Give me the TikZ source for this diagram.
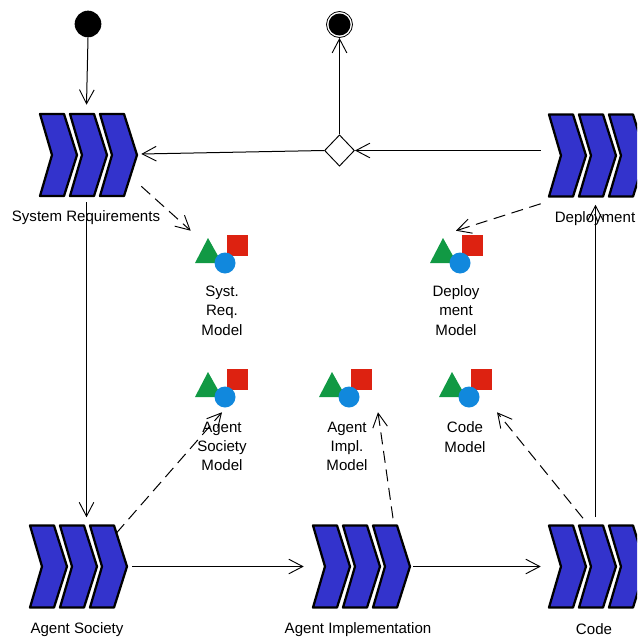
\documentclass[tikz,border=0pt]{standalone}
\usepackage{fontspec}
\setmainfont{Liberation Sans}
\usetikzlibrary{arrows.meta,calc,shapes.geometric}
\definecolor{chevblue}{HTML}{3333CC}
\definecolor{icgreen}{HTML}{119944}
\definecolor{icred}{HTML}{DD2211}
\definecolor{icblue}{HTML}{1188DD}
\tikzset{
  chevbox/.style={inner sep=0pt,minimum width=74.25pt,minimum height=63pt},
  iconbox/.style={inner sep=0pt,minimum width=39.75pt,minimum height=28.5pt},
  lbl/.style={font=\fontsize{11.3pt}{14.5pt}\selectfont,align=center,inner sep=0pt,text=black},
  flow/.style={draw=black,line width=0.75pt,-{Straight Barb[length=10.5pt,width=11pt,line width=0.7pt]}},
  dep/.style={flow,dash pattern=on 9pt off 5pt},
  startdot/.style={circle,fill=black,inner sep=0pt,minimum size=20pt},
  enddot/.style={circle,draw=black,fill=white,line width=0.6pt,inner sep=0pt,minimum size=19.5pt},
  enddotin/.style={circle,fill=black,inner sep=0pt,minimum size=16.5pt},
  decis/.style={diamond,draw=black,fill=white,line width=0.7pt,inner sep=0pt,minimum width=22.5pt,minimum height=23.5pt},
  chev/.pic={
    \foreach \d in {0,30,60}{
      \draw[fill=chevblue,draw=black,line width=1.7pt,line join=round]
        (-47.5+\d,-41) -- (-23.5+\d,-41) -- (-10.5+\d,0) -- (-23.5+\d,41) -- (-47.5+\d,41) -- (-35.5+\d,0) -- cycle;
    }
  },
  modelicon/.pic={
    \fill[icred] (5,-19) rectangle (26.5,2);
    \fill[icgreen] (-13.5,-16) -- (-26.5,9) -- (0.5,9) -- cycle;
    \fill[icblue] (3.5,9) circle[radius=10.5];
  }
}
\begin{document}
\begin{tikzpicture}[x=0.75pt,y=-0.75pt]
\useasboundingbox (0,0) rectangle (637,639);
\clip (0,0) rectangle (637,639);

% activity nodes
\node[chevbox] (sys) at (87.5,155) {};
\node[chevbox] (depl) at (596.5,155.5) {};
\node[chevbox] (soc) at (77.5,566.5) {};
\node[chevbox] (impl) at (360.5,566.5) {};
\node[chevbox] (code) at (596.5,566.5) {};
\foreach \n in {sys,depl,soc,impl,code}{ \pic at (\n) {chev}; }

% model icons
\node[iconbox] (msys) at (221.5,254) {};
\node[iconbox] (mdep) at (456.5,254) {};
\node[iconbox] (msoc) at (221.5,388) {};
\node[iconbox] (mimp) at (345.5,388) {};
\node[iconbox] (mcod) at (465.5,388) {};
\foreach \n in {msys,mdep,msoc,mimp,mcod}{ \pic at (\n) {modelicon}; }

% control nodes
\node[startdot] (start) at (88,24) {};
\node[enddot] (stop) at (339.5,24.5) {};
\node[enddotin] (stopin) at (stop) {};
\node[decis] (dec) at (339.5,150.5) {};

% connectors
\draw[flow] (start.south) -- ($(sys.north)+(-1,-8)$);
\draw[flow] (dec.north) -- (stop.south);
\draw[flow] ($(depl.west)+(-6,-5)$) -- (dec.east);
\draw[flow] (dec.west) -- ($(sys.east)+(4,-1)$);
\draw[flow] ($(sys.south)+(-1,5)$) -- ($(soc.north)+(9,-7)$);
\draw[flow] ($(soc.east)+(5,0)$) -- ($(impl.west)+(-7,0)$);
\draw[flow] ($(impl.east)+(3,0)$) -- ($(code.west)+(-6,0)$);
\draw[flow] ($(code.north)+(-1,-7)$) -- ($(depl.south)+(-1,7)$);
\draw[dep] ($(sys.south east)+(4,-11)$) -- ($(msys.north west)+(-4,-4)$);
\draw[dep] ($(depl.south west)+(-6,6)$) -- ($(mdep.north)+(-0.5,-4)$);
\draw[dep] ($(soc.north east)+(-11,9)$) -- ($(msoc.south)+(0.5,5)$);
\draw[dep] ($(impl.north)+(32.5,-6)$) -- ($(mimp.south)+(32.5,5)$);
\draw[dep] ($(code.north)+(-13.5,-6)$) -- ($(mcod.south)+(31.5,5)$);

% labels
\node[lbl] (tsys) at (86,217.5) {System Requirements};
\node[lbl] (tdep) at (595,218.5) {Deployment};
\node[lbl] (tsoc) at (77,629.5) {Agent Society};
\node[lbl] (timp) at (358,629.5) {Agent Implementation};
\node[lbl] (tcod) at (594,629.5) {Code};
\node[lbl] (lmsys) at (222,310.5) {Syst.\\Req.\\Model};
\node[lbl] (lmdep) at (456,310.5) {Deploy\\ment\\Model};
\node[lbl] (lmsoc) at (222,446.5) {Agent\\Society\\Model};
\node[lbl] (lmimp) at (347,446.5) {Agent\\Impl.\\Model};
\node[lbl] (lmcod) at (465,437) {Code\\Model};
\end{tikzpicture}
\end{document}
